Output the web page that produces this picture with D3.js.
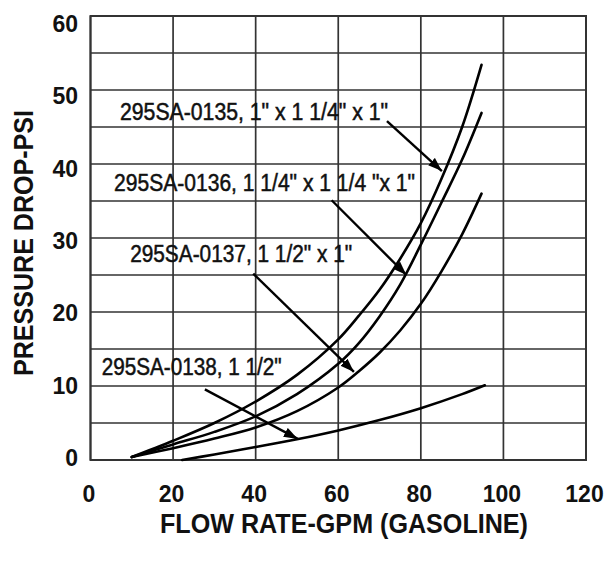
<!DOCTYPE html>
<html><head><meta charset="utf-8">
<script src="https://cdn.jsdelivr.net/npm/d3@7/dist/d3.min.js"></script>
<style>body{margin:0;background:#fff}svg{display:block}</style>
</head><body>
<svg id="chart" width="608" height="562"></svg>
<script>
// ---- data ----
const xTicks = [0, 20, 40, 60, 80, 100, 120];
const yTicks = [0, 10, 20, 30, 40, 50, 60];
const yGrid = [0, 5, 10, 15, 20, 25, 30, 35, 40, 45, 50, 55, 60];
const xTitle = "FLOW RATE-GPM (GASOLINE)";
const yTitle = "PRESSURE DROP-PSI";

const series0135 = [[10,0.4],[20,2.6],[30,5.0],[40,7.9],[50,11.5],[60,16.3],[65,19.5],[70,23.0],[75,27.2],[80,32.0],[85,38.0],[90,45.0],[94.7,53.4]];
const series0136 = [[10,0.4],[20,2.1],[30,3.8],[40,5.9],[50,8.9],[60,13.0],[65,15.8],[70,19.4],[75,23.7],[80,29.1],[85,34.8],[90,40.6],[94.7,46.9]];
const series0137 = [[10,0.4],[20,1.6],[30,2.9],[40,4.4],[50,6.6],[60,9.8],[65,12.0],[70,14.5],[75,17.5],[80,21.1],[85,25.5],[90,30.5],[94.7,36.0]];
const series0138 = [[22.2,0],[30,0.75],[40,1.75],[50,2.8],[60,4.0],[70,5.4],[80,7.0],[90,8.9],[95.5,10.1]];
const seriesList = [series0135, series0136, series0137, series0138];

const labelTexts = ['295SA-0135, 1" x 1 1/4" x 1"', '295SA-0136, 1 1/4" x 1 1/4 "x 1"', '295SA-0137, 1 1/2" x 1"', '295SA-0138, 1 1/2"'];
// label anchor (data units) and arrow start/end (data units)
const labelAt = [[7.15,45.95],[5.7,36.35],[9.6,26.76],[2.7,11.5]];
const arrowFrom = [[71.8,45.8],[58.4,35.1],[39.4,25.2],[27.7,9.55]];
const arrowTo = [[85.1,39.05],[76.5,25.0],[63.8,11.9],[50.2,2.85]];

// ---- layout ----
const svg = d3.select("#chart");
const x = d3.scaleLinear().domain([0,120]).range([90.5,586]);
const y = d3.scaleLinear().domain([0,60]).range([460,16]);
const yLab = d3.scaleLinear().domain([0,60]).range([466,32]);
const gridColor = "#333";

const defs = svg.append("defs");
defs.append("marker").attr("id","ah").attr("markerUnits","userSpaceOnUse")
  .attr("viewBox","0 0 14 10").attr("refX",14).attr("refY",5)
  .attr("markerWidth",14).attr("markerHeight",10).attr("orient","auto")
  .append("path").attr("d","M0,0 L14,5 L0,10 Z").attr("fill","#000");

// grid
const g = svg.append("g");
g.selectAll("line.h").data(yGrid).join("line")
  .attr("x1",x(0)).attr("x2",x(120)).attr("y1",d=>y(d)).attr("y2",d=>y(d))
  .attr("stroke",gridColor).attr("stroke-width",1.7);
g.selectAll("line.v").data(xTicks).join("line")
  .attr("y1",y(0)).attr("y2",y(60)).attr("x1",d=>x(d)).attr("x2",d=>x(d))
  .attr("stroke",gridColor).attr("stroke-width",1.7);
g.append("rect").attr("x",x(0)).attr("y",y(60)).attr("width",x(120)-x(0)).attr("height",y(0)-y(60))
  .attr("fill","none").attr("stroke",gridColor).attr("stroke-width",2);

// tick labels
const tickFont = "'Liberation Sans', Arial, sans-serif";
svg.append("g").selectAll("text").data(xTicks).join("text")
  .attr("x",d=>x(d)-1.5).attr("y",502).attr("text-anchor","middle")
  .attr("font-family",tickFont).attr("font-weight","bold").attr("font-size",23).attr("fill","#111")
  .text(d=>d);
svg.append("g").selectAll("text").data(yTicks).join("text")
  .attr("x",78).attr("y",d=>yLab(d)).attr("text-anchor","end")
  .attr("font-family",tickFont).attr("font-weight","bold").attr("font-size",23).attr("fill","#111")
  .text(d=>d);

// axis titles
svg.append("text").attr("x",344).attr("y",533).attr("text-anchor","middle")
  .attr("font-family",tickFont).attr("font-weight","bold").attr("font-size",27).attr("fill","#111")
  .attr("textLength",368).attr("lengthAdjust","spacingAndGlyphs").text(xTitle);
svg.append("text").attr("transform","translate(33,243) rotate(-90)").attr("text-anchor","middle")
  .attr("font-family",tickFont).attr("font-weight","bold").attr("font-size",27).attr("fill","#111")
  .attr("textLength",266).attr("lengthAdjust","spacingAndGlyphs").text(yTitle);

// curves
const line = d3.line().x(d=>x(d[0])).y(d=>y(d[1])).curve(d3.curveCatmullRom.alpha(0.5));
svg.append("g").selectAll("path").data(seriesList).join("path")
  .attr("d",line).attr("fill","none").attr("stroke","#000").attr("stroke-width",2.6)
  .attr("stroke-linecap","round");

// annotations
const labelWidths = [268, 301, 222, 180];
const ann = svg.append("g");
ann.selectAll("text").data(labelTexts).join("text")
  .attr("x",(d,i)=>x(labelAt[i][0])).attr("y",(d,i)=>y(labelAt[i][1]))
  .attr("font-family","'Liberation Sans Narrow','Arial Narrow','Liberation Sans',Arial,sans-serif")
  .attr("font-size",23).attr("fill","#111").attr("stroke","#111").attr("stroke-width",0.5)
  .attr("textLength",(d,i)=>labelWidths[i]).attr("lengthAdjust","spacingAndGlyphs")
  .text(d=>d);
ann.selectAll("line").data(arrowFrom).join("line")
  .attr("x1",d=>x(d[0])).attr("y1",d=>y(d[1]))
  .attr("x2",(d,i)=>x(arrowTo[i][0])).attr("y2",(d,i)=>y(arrowTo[i][1]))
  .attr("stroke","#000").attr("stroke-width",2.4).attr("marker-end","url(#ah)");
</script>
</body></html>
